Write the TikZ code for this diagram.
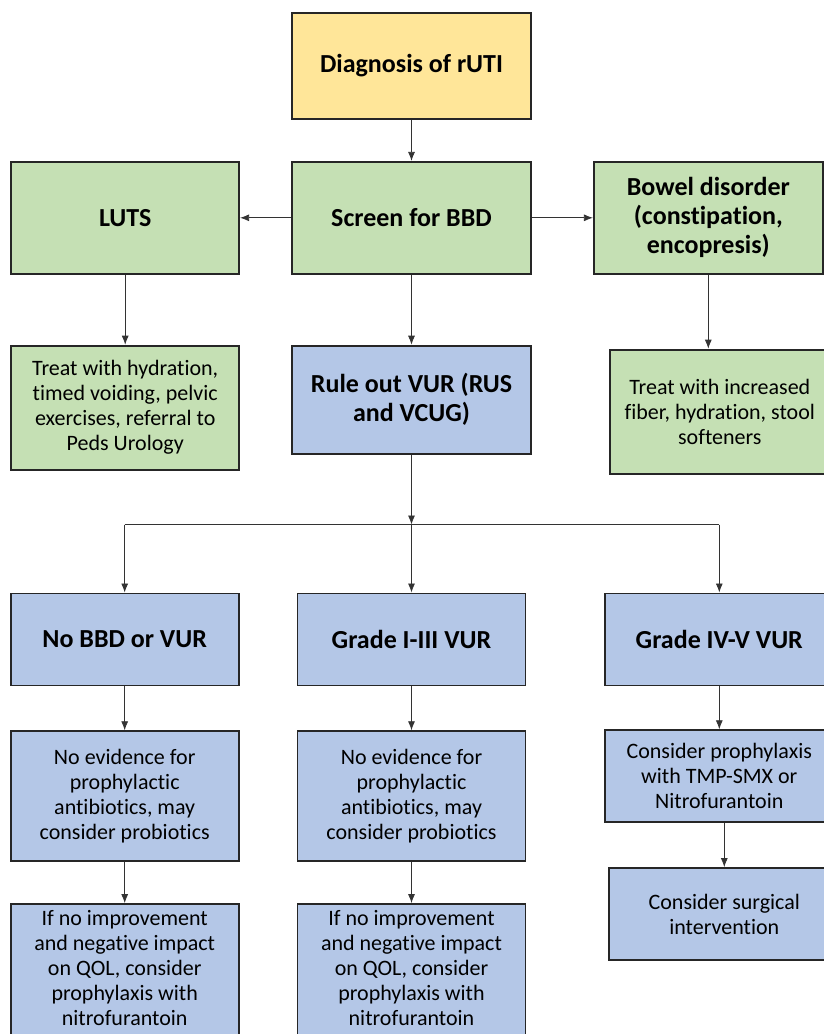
\documentclass[tikz,border=0pt]{standalone}
\usepackage{fontspec}
\setmainfont{Carlito}[Ligatures=NoCommon]
\usetikzlibrary{positioning,arrows.meta}
\definecolor{rutiyellow}{HTML}{FFE699}
\definecolor{rutigreen}{HTML}{C5E0B4}
\definecolor{rutiblue}{HTML}{B4C7E7}

\begin{document}
\begin{tikzpicture}[x=1pt, y=1pt]
      \tikzstyle{box}=[rectangle, draw=black!85, line width=1.8pt, align=center, inner sep=2pt]
      \tikzstyle{title}=[box, font=\bfseries\fontsize{26}{29}\selectfont]
      \tikzstyle{body}=[box, font=\fontsize{22}{25}\selectfont]
      \tikzstyle{connect}=[-{Latex[length=9pt, width=7pt]}, line width=0.8pt, draw=black!80]

      \useasboundingbox (0,0) rectangle (823,-1034);

      \node[title, fill=rutiyellow, minimum width=239pt, minimum height=106pt] (diag) at (411.5,-66) {Diagnosis of rUTI};
      \node[title, fill=rutigreen, minimum width=239pt, minimum height=112pt] (screen) [below=41pt of diag] {Screen for BBD};
      \node[title, fill=rutigreen, minimum width=228pt, minimum height=112pt] (luts) [left=51pt of screen] {LUTS};
      \node[title, fill=rutigreen, minimum width=229pt, minimum height=112pt] (bowel) [right=61pt of screen] {Bowel disorder\\(constipation,\\encopresis)};

      \node[body, fill=rutigreen, minimum width=228pt, minimum height=124pt] (hydrate) [below=70pt of luts] {Treat with hydration,\\timed voiding, pelvic\\exercises, referral to\\Peds Urology};
      \node[title, fill=rutiblue, minimum width=239pt, minimum height=108pt] (rule) [below=70pt of screen] {Rule out VUR (RUS\\and VCUG)};
      \node[body, fill=rutigreen, minimum width=220pt, minimum height=124pt] (fiber) [below=74pt of bowel, xshift=11.5pt] {Treat with increased\\fiber, hydration, stool\\softeners};

      \coordinate[below=70pt of rule] (branch);

      \node[title, fill=rutiblue, minimum width=228pt, minimum height=92pt] (grade13) [below=138pt of rule] {Grade I-III VUR};
      \node[title, fill=rutiblue, minimum width=228pt, minimum height=92pt] (nobbd) [left=57pt of grade13] {No BBD or VUR};
      \node[title, fill=rutiblue, minimum width=228pt, minimum height=92pt] (grade45) [right=78pt of grade13] {Grade IV-V VUR};

      \node[body, fill=rutiblue, minimum width=228pt, minimum height=130pt] (evidl) [below=44pt of nobbd] {No evidence for\\prophylactic\\antibiotics, may\\consider probiotics};
      \node[body, fill=rutiblue, minimum width=228pt, minimum height=130pt] (evidm) [below=44pt of grade13] {No evidence for\\prophylactic\\antibiotics, may\\consider probiotics};
      \node[body, fill=rutiblue, minimum width=228pt, minimum height=92pt] (prophy) [below=43pt of grade45] {Consider prophylaxis\\with TMP-SMX or\\Nitrofurantoin};
      \node[body, fill=rutiblue, minimum width=230pt, minimum height=92pt] (surgery) [below=44pt of prophy, xshift=5pt] {Consider surgical\\intervention};

      % bottom boxes run past the page edge
      \node[body, fill=rutiblue, minimum width=228pt, minimum height=152pt] (nitrol) [below=41pt of evidl] {If no improvement\\and negative impact\\on QOL, consider\\prophylaxis with\\nitrofurantoin\\ \mbox{}};
      \node[body, fill=rutiblue, minimum width=228pt, minimum height=152pt] (nitrom) [below=41pt of evidm] {If no improvement\\and negative impact\\on QOL, consider\\prophylaxis with\\nitrofurantoin\\ \mbox{}};

      \path (diag) edge [connect] (screen);
      \path (screen) edge [connect] (luts);
      \path (screen) edge [connect] (bowel);
      \path (luts) edge [connect] (hydrate);
      \path (screen) edge [connect] (rule);
      \draw[connect] (bowel.south) -- (bowel.south |- fiber.north);
      \draw[connect] (rule) -- (branch);
      \draw[line width=0.8pt, draw=black!80] (nobbd.north |- branch) -- (grade45.north |- branch);
      \draw[connect] (nobbd.north |- branch) -- (nobbd);
      \draw[connect] (branch) -- (grade13);
      \draw[connect] (grade45.north |- branch) -- (grade45);
      \path (nobbd) edge [connect] (evidl);
      \path (grade13) edge [connect] (evidm);
      \path (grade45) edge [connect] (prophy);
      \path (evidl) edge [connect] (nitrol);
      \path (evidm) edge [connect] (nitrom);
      \draw[connect] (prophy.south -| surgery.north) -- (surgery);
    \end{tikzpicture}
\end{document}
